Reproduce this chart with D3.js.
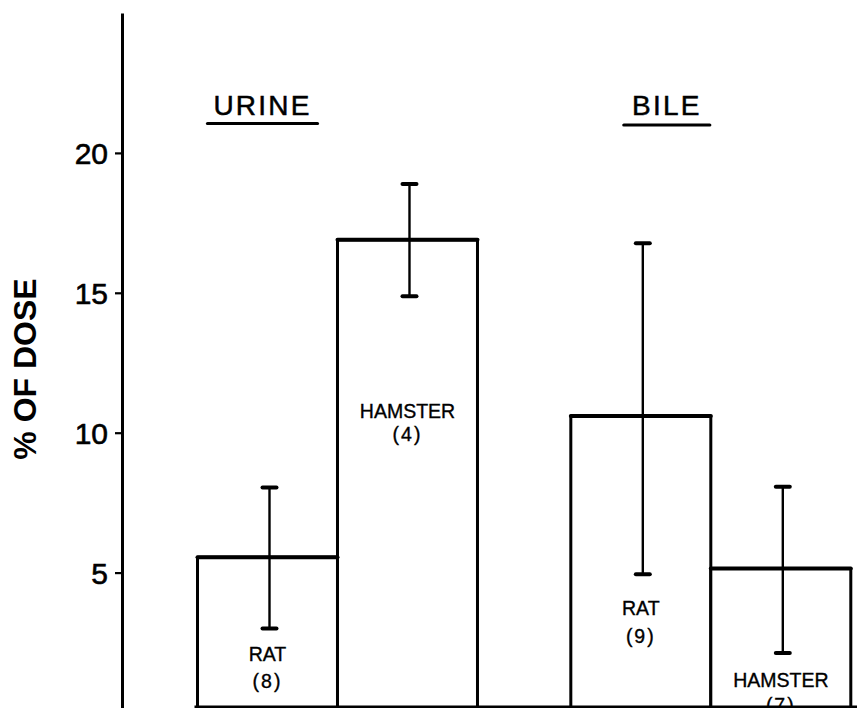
<!DOCTYPE html>
<html>
<head>
<meta charset="utf-8">
<script src="https://cdn.jsdelivr.net/npm/d3@7"></script>
<style>
  html, body { margin: 0; padding: 0; background: #fff; }
  svg { display: block; }
  text { font-family: "Liberation Sans", Arial, sans-serif; fill: #000; }
</style>
</head>
<body>
<svg id="chart" width="857" height="708"></svg>
<script>
// Excretion of the dose, by route and species
const groups = ["URINE", "BILE"];
const species = ["RAT", "HAMSTER"];
const meanUrine = [5.55, 16.9];
const meanBile = [10.6, 5.15];
const lowUrine = [3.0, 14.88];
const highUrine = [8.04, 18.89];
const lowBile = [4.94, 2.13];
const highBile = [16.77, 8.07];
const nUrine = [8, 4];
const nBile = [9, 7];
const yTicks = [5, 10, 15, 20];

const rows = [];
groups.forEach((g, gi) => {
  const mean = gi === 0 ? meanUrine : meanBile;
  const lo = gi === 0 ? lowUrine : lowBile;
  const hi = gi === 0 ? highUrine : highBile;
  const n = gi === 0 ? nUrine : nBile;
  species.forEach((s, si) => {
    rows.push({ group: g, species: s, mean: mean[si], low: lo[si], high: hi[si], n: n[si] });
  });
});

// where the two label lines sit inside each bar (value units)
const labelPlace = {
  "URINE|RAT": [1.84, 0.86],
  "URINE|HAMSTER": [10.52, 9.72],
  "BILE|RAT": [3.48, 2.5],
  "BILE|HAMSTER": [0.92, 0.02]
};

const svg = d3.select("#chart");
const W = 857, H = 708;
const axisX = 122;
const baseY = 707;

const y = d3.scaleLinear().domain([0, 25]).range([712.5, 13]);
const xGroup = d3.scaleBand().domain(groups).range([197.5, 850.8]).paddingInner(0.25).paddingOuter(0);
const xSpecies = d3.scaleBand().domain(species).range([0, xGroup.bandwidth()]).padding(0);

// y axis
const yAxis = d3.axisLeft(y).tickValues(yTicks).tickSize(7).tickSizeOuter(0).tickPadding(7);
const gAxis = svg.append("g").attr("transform", `translate(${axisX},0)`).call(yAxis);
gAxis.select(".domain").attr("stroke", "#000").attr("stroke-width", 3);
gAxis.selectAll(".tick line").attr("stroke", "#000").attr("stroke-width", 2.2);
gAxis.selectAll(".tick text")
  .attr("font-size", 30)
  .attr("font-family", "Liberation Sans, Arial, sans-serif")
  .attr("fill", "#000")
  .attr("stroke", "#000")
  .attr("stroke-width", 0.6)
  .attr("dy", "0.36em");

// axis title
svg.append("text")
  .attr("transform", `translate(36,369) rotate(-90)`)
  .attr("text-anchor", "middle")
  .attr("font-size", 32)
  .attr("font-weight", "bold")
  .text("% OF DOSE");

// bars
const bars = svg.append("g");
bars.selectAll("rect")
  .data(rows)
  .join("rect")
  .attr("x", d => xGroup(d.group) + xSpecies(d.species))
  .attr("y", d => y(d.mean))
  .attr("width", xSpecies.bandwidth())
  .attr("height", d => baseY - y(d.mean) + 4)
  .attr("fill", "#fff")
  .attr("stroke", "#000")
  .attr("stroke-width", 3)
  .attr("stroke-linejoin", "round");

// heavier top edges
bars.selectAll("line.top")
  .data(rows)
  .join("line")
  .attr("class", "top")
  .attr("x1", d => xGroup(d.group) + xSpecies(d.species))
  .attr("x2", d => xGroup(d.group) + xSpecies(d.species) + xSpecies.bandwidth())
  .attr("y1", d => y(d.mean))
  .attr("y2", d => y(d.mean))
  .attr("stroke", "#000")
  .attr("stroke-width", 4)
  .attr("stroke-linecap", "round");

// bar labels (drawn before the baseline so it runs over the lowest one)
const lab = svg.append("g").attr("text-anchor", "middle").attr("font-size", 19.5)
  .attr("stroke", "#000").attr("stroke-width", 0.35);
rows.forEach(d => {
  const p = labelPlace[d.group + "|" + d.species];
  const x = xGroup(d.group) + xSpecies(d.species) + xSpecies.bandwidth() / 2;
  lab.append("text").attr("x", x).attr("y", y(p[0])).text(d.species);
  lab.append("text").attr("x", x).attr("y", y(p[1])).attr("letter-spacing", 2).text(`(${d.n})`);
});

// baseline
svg.append("line")
  .attr("x1", xGroup(groups[0]) - 3).attr("x2", W)
  .attr("y1", baseY).attr("y2", baseY)
  .attr("stroke", "#000").attr("stroke-width", 3);

// error bars
const cx = d => xGroup(d.group) + xSpecies(d.species) + xSpecies.bandwidth() / 2 + 2;
const eb = svg.append("g");
eb.selectAll("line.stem")
  .data(rows).join("line").attr("class", "stem")
  .attr("x1", cx).attr("x2", cx)
  .attr("y1", d => y(d.high)).attr("y2", d => y(d.low))
  .attr("stroke", "#000").attr("stroke-width", 2.4);
["high", "low"].forEach(k => {
  eb.selectAll("line.cap-" + k)
    .data(rows).join("line").attr("class", "cap-" + k)
    .attr("x1", d => cx(d) - 7).attr("x2", d => cx(d) + 7)
    .attr("y1", d => y(d[k])).attr("y2", d => y(d[k]))
    .attr("stroke", "#000").attr("stroke-width", 4).attr("stroke-linecap", "round");
});

// group headings, underlined
groups.forEach(g => {
  const c = xGroup(g) + xGroup.bandwidth() / 2 - (g === "URINE" ? 75 : 44);
  svg.append("text")
    .attr("x", c).attr("y", 115)
    .attr("text-anchor", "middle")
    .attr("font-size", 28)
    .attr("letter-spacing", 2.2)
    .attr("stroke", "#000").attr("stroke-width", 0.5)
    .text(g);
  const half = g === "URINE" ? 55 : 43;
  svg.append("line")
    .attr("x1", c - half).attr("x2", c + half)
    .attr("y1", g === "URINE" ? 123.5 : 125).attr("y2", g === "URINE" ? 123.5 : 125)
    .attr("stroke", "#000").attr("stroke-width", 3.2).attr("stroke-linecap", "round");
});
</script>
</body>
</html>
